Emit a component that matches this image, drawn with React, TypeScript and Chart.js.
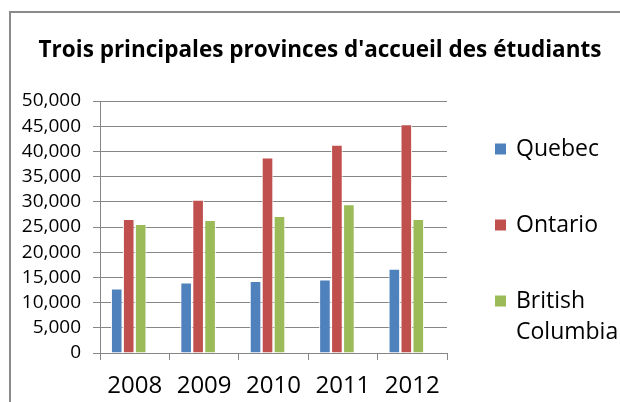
import React, { useEffect, useRef } from "react";
import { Chart, registerables } from "chart.js";

Chart.register(...registerables);

const categories = ["2008", "2009", "2010", "2011", "2012"];
const quebec = [12800, 14000, 14300, 14600, 16700];
const ontario = [26600, 30400, 38800, 41300, 45400];
const britishColumbia = [25600, 26400, 27200, 29500, 26600];
const emptySeries = [null, null, null, null, null];
const seriesNames = ["Quebec", "Ontario", "British Columbia"];
const titleText = "Trois principales provinces d'accueil des étudiants";

const FONT = "'Open Sans', 'Liberation Sans', sans-serif";

const customDraw = {
  id: "customDraw",
  afterDraw(chart: any) {
    const ctx = chart.ctx;
    const ca = chart.chartArea;
    ctx.save();
    // title
    ctx.fillStyle = "#000";
    ctx.font = `bold 22.5px ${FONT}`;
    ctx.textAlign = "center";
    ctx.textBaseline = "middle";
    ctx.fillText(titleText, 309, 38);
    // legend
    ctx.font = `23px ${FONT}`;
    ctx.textAlign = "left";
    const x0 = ca.right + 48;
    let y = ca.top + 48;
    chart.data.datasets.forEach((ds: any) => {
      if (!ds.label) return;
      ctx.fillStyle = ds.backgroundColor;
      ctx.fillRect(x0, y - 5.5, 11, 11);
      ctx.fillStyle = "#000";
      const lines = ds.label === "British Columbia" ? ["British", "Columbia"] : [ds.label];
      lines.forEach((ln: string, i: number) => {
        ctx.fillText(ln, x0 + 21, y + i * 31.5);
      });
      y += 76;
    });
    ctx.restore();
  },
};

export default function App() {
  const ref = useRef<HTMLCanvasElement>(null);
  useEffect(() => {
    document.documentElement.style.overflow = "hidden";
    document.body.style.overflow = "hidden";
    const colors = ["#4F81BD", "#C0504D", "#9BBB59"];
    const chart = new Chart(ref.current!, {
      type: "bar",
      data: {
        labels: categories,
        datasets: [
          { label: seriesNames[0], data: quebec, backgroundColor: colors[0] },
          { label: seriesNames[1], data: ontario, backgroundColor: colors[1] },
          { label: seriesNames[2], data: britishColumbia, backgroundColor: colors[2] },
          { label: "", data: emptySeries as any, backgroundColor: "rgba(0,0,0,0)" },
        ].map((d) => ({
          ...d,
          borderColor: "#ffffff",
          borderWidth: 1,
          categoryPercentage: 0.69,
          barPercentage: 0.97,
        })),
      },
      options: {
        animation: false,
        responsive: false,
        maintainAspectRatio: false,
        layout: { padding: { top: 88, right: 173, left: 9, bottom: 1 } },
        plugins: {
          legend: { display: false },
          title: { display: false },
          tooltip: { enabled: false },
        },
        scales: {
          x: {
            afterFit: (s: any) => {
              s.height = 48;
            },
            grid: {
              display: true,
              drawOnChartArea: false,
              drawTicks: true,
              tickLength: 7,
              color: "#868686",
              offset: true,
            },
            border: { display: true, color: "#868686", width: 1 },
            ticks: {
              color: "#000",
              font: { family: FONT, size: 24 },
              padding: 12,
              autoSkip: false,
              maxRotation: 0,
            },
          },
          y: {
            min: 0,
            max: 50000,
            afterFit: (s: any) => {
              s.width = 80;
            },
            grid: { color: "#868686", tickLength: 7, lineWidth: 1 },
            border: { display: true, color: "#868686", width: 1 },
            ticks: {
              stepSize: 5000,
              autoSkip: false,
              color: "#000",
              font: { family: FONT, size: 19 },
              padding: 12,
              callback: (v: any) => Number(v).toLocaleString("en-US"),
            },
          },
        },
      },
      plugins: [customDraw],
    });
    return () => chart.destroy();
  }, []);
  return (
    <div
      style={{
        position: "fixed",
        left: 9,
        top: 11,
        borderLeft: "2px solid #8a8a8a",
        borderTop: "2px solid #8a8a8a",
        width: 640,
        height: 420,
        overflow: "hidden",
        background: "#fff",
      }}
    >
      <canvas ref={ref} width={609} height={389} style={{ display: "block" }} />
    </div>
  );
}
